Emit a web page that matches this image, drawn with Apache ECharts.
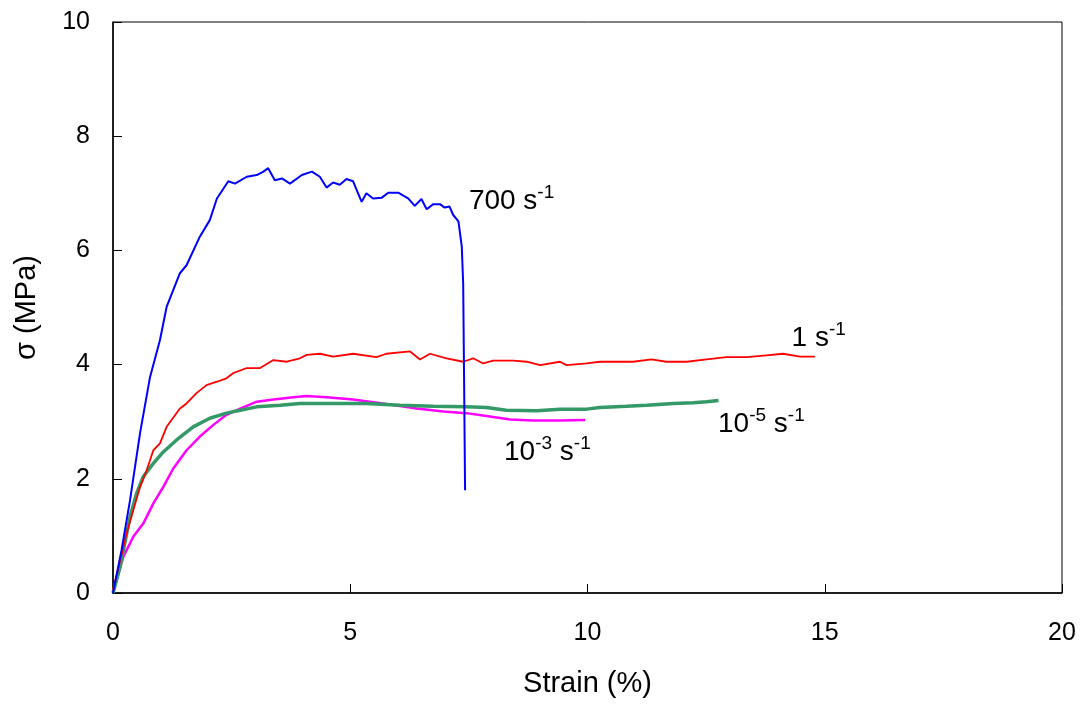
<!DOCTYPE html>
<html>
<head>
    <meta charset="utf-8">
    <title>Stress-strain</title>
    <script src="https://cdn.jsdelivr.net/npm/echarts@6/dist/echarts.min.js"></script>
</head>
<body style="margin:0">
    <div id="main" style="width:1086px;height:706px"></div>
    <script type="text/javascript">
// strain (%) / stress (MPa) pairs
var rate700 = [
    [0, 0], [0.18, 0.75], [0.36, 1.63], [0.57, 2.8], [0.78, 3.78], [0.99, 4.43], [1.13, 5.01],
    [1.41, 5.6], [1.55, 5.74], [1.83, 6.24], [2.04, 6.53], [2.19, 6.91], [2.43, 7.21], [2.57, 7.17],
    [2.82, 7.29], [3.03, 7.32], [3.17, 7.38], [3.27, 7.44], [3.41, 7.23], [3.56, 7.26], [3.73, 7.17],
    [3.98, 7.32], [4.19, 7.38], [4.36, 7.29], [4.5, 7.1], [4.64, 7.19], [4.78, 7.15], [4.92, 7.25],
    [5.06, 7.21], [5.24, 6.85], [5.34, 7.0], [5.48, 6.91], [5.66, 6.92], [5.8, 7.01], [6.01, 7.01],
    [6.22, 6.91], [6.36, 6.78], [6.5, 6.9], [6.61, 6.72], [6.75, 6.81], [6.89, 6.81], [6.99, 6.75],
    [7.09, 6.77], [7.17, 6.62], [7.28, 6.51], [7.35, 6.07], [7.38, 5.42], [7.4, 3.67], [7.42, 1.8]
];
var rate1 = [
    [0, 0.05], [0.29, 1.05], [0.57, 1.86], [0.71, 2.15], [0.85, 2.5], [0.99, 2.62], [1.13, 2.91],
    [1.41, 3.23], [1.55, 3.32], [1.76, 3.5], [1.97, 3.64], [2.19, 3.7], [2.39, 3.76], [2.53, 3.85],
    [2.82, 3.94], [3.1, 3.94], [3.38, 4.08], [3.66, 4.05], [3.94, 4.11], [4.08, 4.17], [4.36, 4.19],
    [4.64, 4.14], [5.06, 4.19], [5.55, 4.13], [5.76, 4.19], [6.26, 4.23], [6.47, 4.09], [6.68, 4.19],
    [7.03, 4.11], [7.38, 4.05], [7.59, 4.11], [7.8, 4.02], [8.01, 4.07], [8.43, 4.07], [8.72, 4.05],
    [9.0, 3.99], [9.42, 4.05], [9.56, 3.99], [9.98, 4.02], [10.26, 4.05], [10.68, 4.05], [10.96, 4.05],
    [11.35, 4.09], [11.66, 4.05], [12.09, 4.05], [12.51, 4.09], [12.93, 4.13], [13.35, 4.13],
    [13.77, 4.16], [14.12, 4.19], [14.48, 4.14], [14.79, 4.14]
];
var rate1e5 = [
    [0, 0], [0.15, 0.46], [0.36, 1.34], [0.5, 1.75], [0.64, 2.04], [0.85, 2.27], [1.06, 2.47],
    [1.34, 2.68], [1.69, 2.91], [2.04, 3.06], [2.39, 3.15], [2.68, 3.2], [3.03, 3.26], [3.52, 3.29],
    [3.94, 3.32], [4.64, 3.32], [5.34, 3.32], [6.05, 3.29], [6.75, 3.27], [7.45, 3.26], [7.87, 3.25],
    [8.29, 3.2], [8.93, 3.19], [9.42, 3.22], [9.98, 3.22], [10.26, 3.25], [10.82, 3.27], [11.25, 3.29],
    [11.81, 3.32], [12.23, 3.33], [12.51, 3.35], [12.76, 3.37]
];
var rate1e3 = [
    [0, 0.02], [0.22, 0.64], [0.43, 0.99], [0.64, 1.22], [0.85, 1.57], [1.06, 1.86], [1.27, 2.18],
    [1.55, 2.5], [1.83, 2.74], [2.11, 2.94], [2.39, 3.12], [2.68, 3.23], [3.03, 3.35], [3.38, 3.39],
    [3.8, 3.43], [4.08, 3.45], [4.5, 3.43], [5.06, 3.39], [5.76, 3.31], [6.4, 3.23], [6.96, 3.18],
    [7.45, 3.15], [7.87, 3.1], [8.37, 3.04], [8.86, 3.02], [9.42, 3.02], [9.95, 3.03]
];

var myChart = echarts.init(document.getElementById('main'));
var FONT = 'Liberation Sans';

// curve label: big text + superscript pieces, left-middle anchored at coord
function rateLabel(coord, fmt) {
    return {
        symbol: 'circle',
        symbolSize: 0,
        silent: true,
        data: [{
            coord: coord,
            label: {
                show: true,
                position: 'right',
                distance: 0,
                formatter: fmt,
                rich: {
                    b: { fontFamily: FONT, fontSize: 28, color: '#000', verticalAlign: 'bottom', lineHeight: 32 },
                    s: { fontFamily: FONT, fontSize: 19, color: '#000', verticalAlign: 'top', lineHeight: 32 }
                }
            }
        }]
    };
}

var option = {
    animation: false,
    backgroundColor: '#fff',
    grid: {
        left: 113, right: 24, top: 22, bottom: 113,
        show: true, borderColor: '#000', borderWidth: 1, backgroundColor: 'transparent'
    },
    xAxis: {
        type: 'value', min: 0, max: 20, interval: 5,
        name: 'Strain (%)', nameLocation: 'middle', nameGap: 76,
        nameTextStyle: { fontFamily: FONT, fontSize: 29, color: '#000' },
        axisLine: { lineStyle: { color: '#000', width: 1.5 } },
        axisTick: { inside: true, length: 9, lineStyle: { color: '#000' } },
        axisLabel: { fontFamily: FONT, fontSize: 25, color: '#000', margin: 28 },
        splitLine: { show: false }
    },
    yAxis: {
        type: 'value', min: 0, max: 10, interval: 2,
        name: 'σ (MPa)', nameLocation: 'middle', nameGap: 72, nameRotate: 90,
        nameTextStyle: { fontFamily: FONT, fontSize: 29, color: '#000' },
        axisLine: { lineStyle: { color: '#000', width: 1.5 } },
        axisTick: { inside: true, length: 9, lineStyle: { color: '#000' } },
        axisLabel: { fontFamily: FONT, fontSize: 25, color: '#000', margin: 23 },
        splitLine: { show: false }
    },
    series: [
        {
            name: '10-3 s-1', type: 'line', data: rate1e3, showSymbol: false,
            lineStyle: { color: '#ff00ff', width: 2.5 },
            markPoint: rateLabel([8.24, 2.5], '{b|10}{s|-3}{b| s}{s|-1}')
        },
        {
            name: '10-5 s-1', type: 'line', data: rate1e5, showSymbol: false,
            lineStyle: { color: '#339966', width: 3.5 },
            markPoint: rateLabel([12.75, 2.99], '{b|10}{s|-5}{b| s}{s|-1}')
        },
        {
            name: '1 s-1', type: 'line', data: rate1, showSymbol: false,
            lineStyle: { color: '#ff0000', width: 1.8 },
            markPoint: rateLabel([14.3, 4.5], '{b|1 s}{s|-1}')
        },
        {
            name: '700 s-1', type: 'line', data: rate700, showSymbol: false,
            lineStyle: { color: '#0000ff', width: 2 },
            markPoint: rateLabel([7.5, 6.9], '{b|700 s}{s|-1}')
        }
    ]
};

myChart.setOption(option);
    </script>
</body>
</html>
